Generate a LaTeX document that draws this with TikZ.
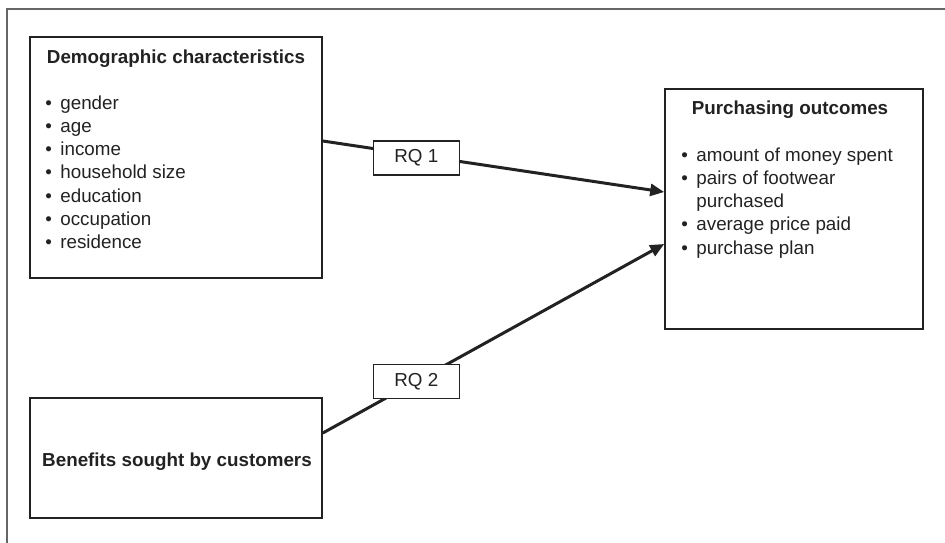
\documentclass[tikz,border=0pt]{standalone}
\usepackage{fontspec}
\setmainfont{Liberation Sans}
\usepackage{xcolor}
\usepackage{tikz}
\usetikzlibrary{arrows.meta, positioning}
\definecolor{ink}{HTML}{222222}

\newcommand{\bul}{\makebox[7.5pt][l]{\textbullet}}

\begin{document}
\begin{tikzpicture}[x=0.5pt, y=-0.5pt,
    font=\fontsize{9.4}{11.65}\selectfont, text=ink,
    box/.style={rectangle, draw=ink, line width=0.8pt, inner sep=0pt},
    rqbox/.style={rectangle, draw=ink, line width=0.6pt, fill=white, minimum width=43pt, minimum height=17pt, inner sep=0pt},
    title/.style={font=\fontsize{9.4}{11.65}\selectfont\bfseries, inner sep=0pt},
    list/.style={align=left, inner sep=0pt, anchor=north west},
    link/.style={-{Triangle[length=7pt,width=6pt]}, draw=ink, line width=1.5pt}
    ]

    \useasboundingbox (0,0) rectangle (945,542);
    % frame
    \draw[draw=black!60, line width=1pt] (7,560) -- (7,9) -- (960,9);

    % boxes
    \node[box, minimum width=146pt, minimum height=120.5pt] (demo) at (176,157.5) {};
    \node[box, minimum width=129pt, minimum height=120pt] (purch) at (794,209) {};
    \node[box, minimum width=146pt, minimum height=60pt] (benef) at (176,458) {};

    \node[title] (demotitle) at (176,59) {Demographic characteristics};
    \node[list] (demolist) at (45,95) {\bul gender\\ \bul age\\ \bul income\\ \bul household size\\
        \bul education\\ \bul occupation\\ \bul residence};

    \node[title] (purchtitle) at (790,110) {Purchasing outcomes};
    \node[list] (purchlist) at (681,147) {\bul amount of money spent\\ \bul pairs of footwear\\
        \hspace*{7.5pt}purchased\\ \bul average price paid\\ \bul purchase plan};

    \node[title] (beneftitle) at (177,462) {Benefits sought by customers};

    % links
    \draw[link] ([yshift=8.25pt]demo.east) -- node[rqbox, pos=.274, yshift=-1.5pt] (rq1) {RQ 1} ([yshift=8.5pt]purch.west);
    \draw[link] ([yshift=12.5pt]benef.east) -- node[rqbox, pos=.274] (rq2) {RQ 2} ([yshift=-17.5pt]purch.west);
\end{tikzpicture}
\end{document}
